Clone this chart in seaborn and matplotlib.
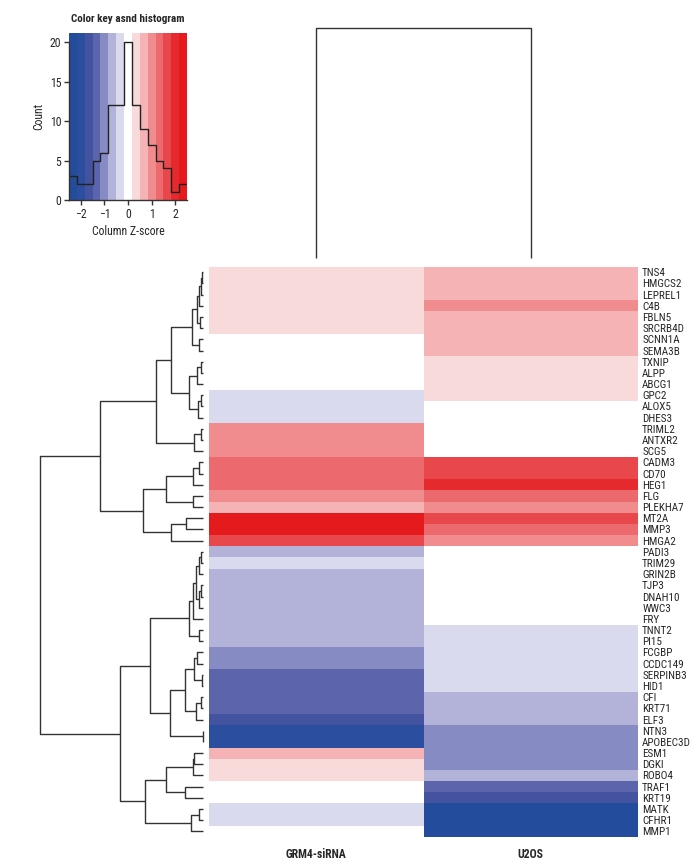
import numpy as np
import pandas as pd
import matplotlib
matplotlib.use("Agg")
import matplotlib.pyplot as plt
from matplotlib import font_manager
from matplotlib.colors import ListedColormap
import seaborn as sns

# --------------------------------------------------------------
# Data
# --------------------------------------------------------------
genes = ["TNS4", "HMGCS2", "LEPREL1", "C4B", "FBLN5", "SRCRB4D", "SCNN1A", "SEMA3B",
         "TXNIP", "ALPP", "ABCG1", "GPC2", "ALOX5", "DHES3", "TRIML2", "ANTXR2", "SCG5",
         "CADM3", "CD70", "HEG1", "FLG", "PLEKHA7", "MT2A", "MMP3", "HMGA2", "PADI3",
         "TRIM29", "GRIN2B", "TJP3", "DNAH10", "WWC3", "FRY", "TNNT2", "PI15", "FCGBP",
         "CCDC149", "SERPINB3", "HID1", "CFI", "KRT71", "ELF3", "NTN3", "APOBEC3D", "ESM1",
         "DGKI", "ROBO4", "TRAF1", "KRT19", "MATK", "CFHR1", "MMP1"]
samples = ["GRM4-siRNA", "U2OS"]

grm4_z = [0.33, 0.33, 0.33, 0.33, 0.33, 0.33, 0.0, 0.0, 0.0, 0.0, 0.0,
          -0.33, -0.33, -0.33, 1.0, 1.0, 1.0, 1.33, 1.33, 1.33, 1.0, 0.67,
          2.33, 2.33, 1.67, -0.67, -0.33, -0.67, -0.67, -0.67, -0.67, -0.67,
          -0.67, -0.67, -1.0, -1.0, -1.33, -1.33, -1.33, -1.33, -1.67, -2.0,
          -2.0, 0.67, 0.33, 0.33, 0.0, 0.0, -0.33, -0.33, 0.0]
u2os_z = [0.67, 0.67, 0.67, 1.0, 0.67, 0.67, 0.67, 0.67, 0.33, 0.33, 0.33,
          0.33, 0.0, 0.0, 0.0, 0.0, 0.0, 1.67, 1.67, 2.0, 1.33, 1.0,
          1.67, 1.33, 1.0, 0.0, 0.0, 0.0, 0.0, 0.0, 0.0, 0.0,
          -0.33, -0.33, -0.33, -0.33, -0.33, -0.33, -0.67, -0.67, -0.67, -1.0,
          -1.0, -1.0, -1.0, -0.67, -1.33, -1.67, -2.33, -2.33, -2.33]

# row dendrogram merges: (child a, child b, height); ids >= 51 are earlier merges
row_links = [
    (0, 1, 0.5), (51, 2, 1.5), (52, 3, 3.5), (4, 5, 3.0), (53, 54, 5.7),
    (6, 7, 3.7), (55, 56, 10.7), (8, 9, 2.0), (58, 10, 5.5), (11, 12, 1.5),
    (60, 13, 4.7), (59, 61, 14.3), (57, 62, 32.0), (14, 15, 2.0), (64, 16, 8.7),
    (63, 65, 47.3), (17, 18, 3.7), (67, 19, 10.3), (20, 21, 10.3), (68, 69, 36.7),
    (22, 23, 17.0), (71, 24, 32.3), (70, 72, 60.3), (66, 73, 102.7),
    (25, 26, 2.0), (75, 27, 3.5), (28, 29, 1.5), (77, 30, 3.5), (76, 78, 7.0),
    (79, 31, 10.3), (32, 33, 3.7), (80, 81, 13.7), (34, 35, 5.7), (36, 37, 0.5),
    (83, 84, 8.7), (38, 39, 2.0), (86, 40, 7.0), (85, 87, 18.3), (41, 42, 0.3),
    (88, 89, 32.7), (82, 90, 53.3), (43, 44, 9.0), (92, 45, 10.3), (46, 47, 17.7),
    (93, 94, 36.7), (48, 49, 4.0), (96, 50, 12.3), (95, 97, 58.3), (91, 98, 82.7),
    (74, 99, 162.7),
]
col_links = [(0, 1, 1.0)]

band_colors = ["#234C9C", "#2C4E9E", "#4353A0", "#5C64AC", "#878BC4", "#B3B3D9", "#DADAEE",
               "#FFFFFF",
               "#F9DADA", "#F5B3B6", "#F08C8E", "#EC6A6E", "#E8484B", "#E5292D", "#E41A1C"]

# --------------------------------------------------------------
# Style (narrow font if one is around)
# --------------------------------------------------------------
sns.set_style("white")
installed = {f.name for f in font_manager.fontManager.ttflist}
narrow = [n for n in ["Liberation Sans Narrow", "Roboto Condensed", "Open Sans Condensed",
                      "Arial Narrow", "DejaVu Sans Condensed"] if n in installed]
plt.rcParams["font.family"] = narrow[:1] + ["DejaVu Sans"]
plt.rcParams["font.stretch"] = "condensed"
LBL = 8.0 if narrow else 7.3

cmap = ListedColormap(band_colors)
VMIN, VMAX = -2.5, 2.5
edges = np.linspace(VMIN, VMAX, len(band_colors) + 1)
LINE = "#333333"

W, H = 696, 864
fig = plt.figure(figsize=(W / 100, H / 100), dpi=100)


def px_axes(x0, y0, x1, y1):
    return fig.add_axes([x0 / W, 1 - y1 / H, (x1 - x0) / W, (y1 - y0) / H])


def draw_dendro(ax, links, n, orient):
    pos = {i: i + 0.5 for i in range(n)}
    hgt = {i: 0.0 for i in range(n)}
    for k, (a, b, h) in enumerate(links):
        hs = [hgt[a], h, h, hgt[b]]
        ps = [pos[a], pos[a], pos[b], pos[b]]
        if orient == "left":
            ax.plot(hs, ps, color=LINE, lw=1, clip_on=False, solid_capstyle="butt")
        else:
            ax.plot(ps, hs, color=LINE, lw=1, clip_on=False, solid_capstyle="butt")
        pos[n + k] = (pos[a] + pos[b]) / 2
        hgt[n + k] = h
    ax.axis("off")


# --------------------------------------------------------------
# Heatmap
# --------------------------------------------------------------
df = pd.DataFrame({samples[0]: grm4_z, samples[1]: u2os_z}, index=genes)

ax_hm = px_axes(209, 266.7, 638, 837)
sns.heatmap(df, ax=ax_hm, cmap=cmap, vmin=VMIN, vmax=VMAX, cbar=False,
            xticklabels=True, yticklabels=True)
ax_hm.yaxis.tick_right()
ax_hm.tick_params(axis="both", length=0)
ax_hm.tick_params(axis="y", pad=3)
ax_hm.tick_params(axis="x", pad=8)
ax_hm.set_yticklabels(genes, rotation=0, ha="left", fontsize=LBL)
ax_hm.set_xticklabels(samples, rotation=0, fontsize=8.5, fontweight="bold")
ax_hm.set_xlabel("")
ax_hm.set_ylabel("")

# --------------------------------------------------------------
# Dendrograms
# --------------------------------------------------------------
ax_row = px_axes(40, 266.7, 203, 837)
draw_dendro(ax_row, row_links, len(genes), "left")
ax_row.set_xlim(row_links[-1][2], 0)
ax_row.set_ylim(len(genes), 0)

ax_col = px_axes(209, 28.3, 638, 257.7)
draw_dendro(ax_col, col_links, len(samples), "top")
ax_col.set_xlim(0, len(samples))
ax_col.set_ylim(0, col_links[-1][2])

# --------------------------------------------------------------
# Colour key + histogram
# --------------------------------------------------------------
ax_key = px_axes(69, 33, 187, 200)
all_z = np.concatenate([grm4_z, u2os_z])
YTOP = 21.2
centers = (edges[:-1] + edges[1:]) / 2
ax_key.pcolormesh(edges, [0, YTOP], centers[None, :], cmap=cmap, vmin=VMIN, vmax=VMAX)
sns.histplot(x=all_z, bins=edges, element="step", fill=False, color="#222222",
             linewidth=1, ax=ax_key)
ax_key.set_xlim(VMIN, VMAX)
ax_key.set_ylim(0, YTOP)
ax_key.set_xticks([-2, -1, 0, 1, 2])
ax_key.set_yticks([0, 5, 10, 15, 20])
for side in ["top", "right"]:
    ax_key.spines[side].set_visible(False)
for side in ["left", "bottom"]:
    ax_key.spines[side].set_color(LINE)
    ax_key.spines[side].set_linewidth(1)
ax_key.spines["left"].set_bounds(0, 20)
ax_key.tick_params(axis="both", direction="out", length=3.5, width=1, color=LINE,
                   labelsize=8.5, pad=2, left=True, bottom=True)
ax_key.set_xlabel("Column Z-score", fontsize=8.5, labelpad=3)
ax_key.set_ylabel("Count", fontsize=8.5, labelpad=3)
ax_key.set_title("Color key asnd histogram", fontsize=8, fontweight="bold", pad=8)

fig.savefig("out.png", dpi=100)
plt.close(fig)
